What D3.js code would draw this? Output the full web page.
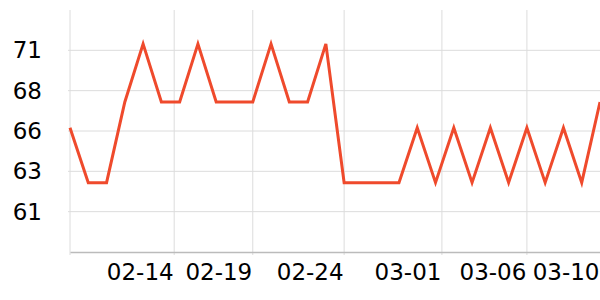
<!DOCTYPE html>
<html>
<head>
<meta charset="utf-8">
<script src="https://cdn.jsdelivr.net/npm/d3@7"></script>
<style>
  body { margin: 0; background: #fff; }
  svg { display: block; }
  .grid line { stroke: #dcdcdc; stroke-width: 1; }
  .axis text { font-family: 'DejaVu Sans', sans-serif; font-size: 23px; fill: #000; }
</style>
</head>
<body>
<svg id="chart" width="600" height="300"></svg>
<script>
// one value per day, evenly spaced
const values = [
  66.2, 62.8, 62.8, 67.8, 71.4, 67.8, 67.8, 71.4, 67.8, 67.8,
  67.8, 71.4, 67.8, 67.8, 71.4, 62.8, 62.8, 62.8, 62.8, 66.2,
  62.8, 66.2, 62.8, 66.2, 62.8, 66.2, 62.8, 66.2, 62.8, 67.8
]
const xTickLabels = ['02-14', '02-19', '02-24', '03-01', '03-06', '03-10']
const xTickAt = [5.7, 10, 15, 20.35, 25, 29]
const yTicks = [61, 63.5, 66, 68.5, 71]
const yDomain = [58.5, 73.5]

const margin = { top: 10, right: 0, bottom: 48, left: 70 }
const svg = d3.select('#chart')
const width = 600 - margin.left - margin.right
const height = 300 - margin.top - margin.bottom

const g = svg.append('g')
  .attr('transform', `translate(${margin.left}, ${margin.top})`)

const x = d3.scaleLinear()
  .domain([0, values.length - 1])
  .range([0, width])

const y = d3.scaleLinear()
  .domain(yDomain)
  .range([height, 0])

// horizontal grid
g.append('g')
  .attr('class', 'grid')
  .selectAll('line')
  .data(yTicks)
  .join('line')
  .attr('x1', -2)
  .attr('x2', width)
  .attr('y1', d => y(d))
  .attr('y2', d => y(d))

// vertical grid (left edge + labelled ticks; the last one sits on the right edge)
g.append('g')
  .attr('class', 'grid')
  .selectAll('line')
  .data([0].concat(xTickAt.slice(0, -1)))
  .join('line')
  .attr('x1', d => x(d))
  .attr('x2', d => x(d))
  .attr('y1', 0)
  .attr('y2', height + 3)

// y labels
const yAxis = g.append('g')
  .attr('class', 'axis')
  .call(d3.axisLeft(y).tickValues(yTicks).tickFormat(d => Math.floor(d)).tickSize(0).tickPadding(28))
yAxis.select('.domain').remove()

// x axis
const xAxis = g.append('g')
  .attr('class', 'axis')
  .attr('transform', `translate(0, ${height})`)
  .call(d3.axisBottom(x).tickValues(xTickAt).tickFormat((d, i) => xTickLabels[i]).tickSize(0).tickPadding(12))
xAxis.select('.domain').attr('stroke', '#bbb').attr('stroke-width', 1.5)
xAxis.selectAll('text')
  .attr('text-anchor', 'end')
  .attr('dx', -1)
  .attr('dy', '0.7em')

// line
const line = d3.line()
  .x((d, i) => x(i))
  .y(d => y(d))

g.append('path')
  .datum(values)
  .attr('fill', 'none')
  .attr('stroke', '#ef4a2c')
  .attr('stroke-width', 3)
  .attr('d', line)
</script>
</body>
</html>
